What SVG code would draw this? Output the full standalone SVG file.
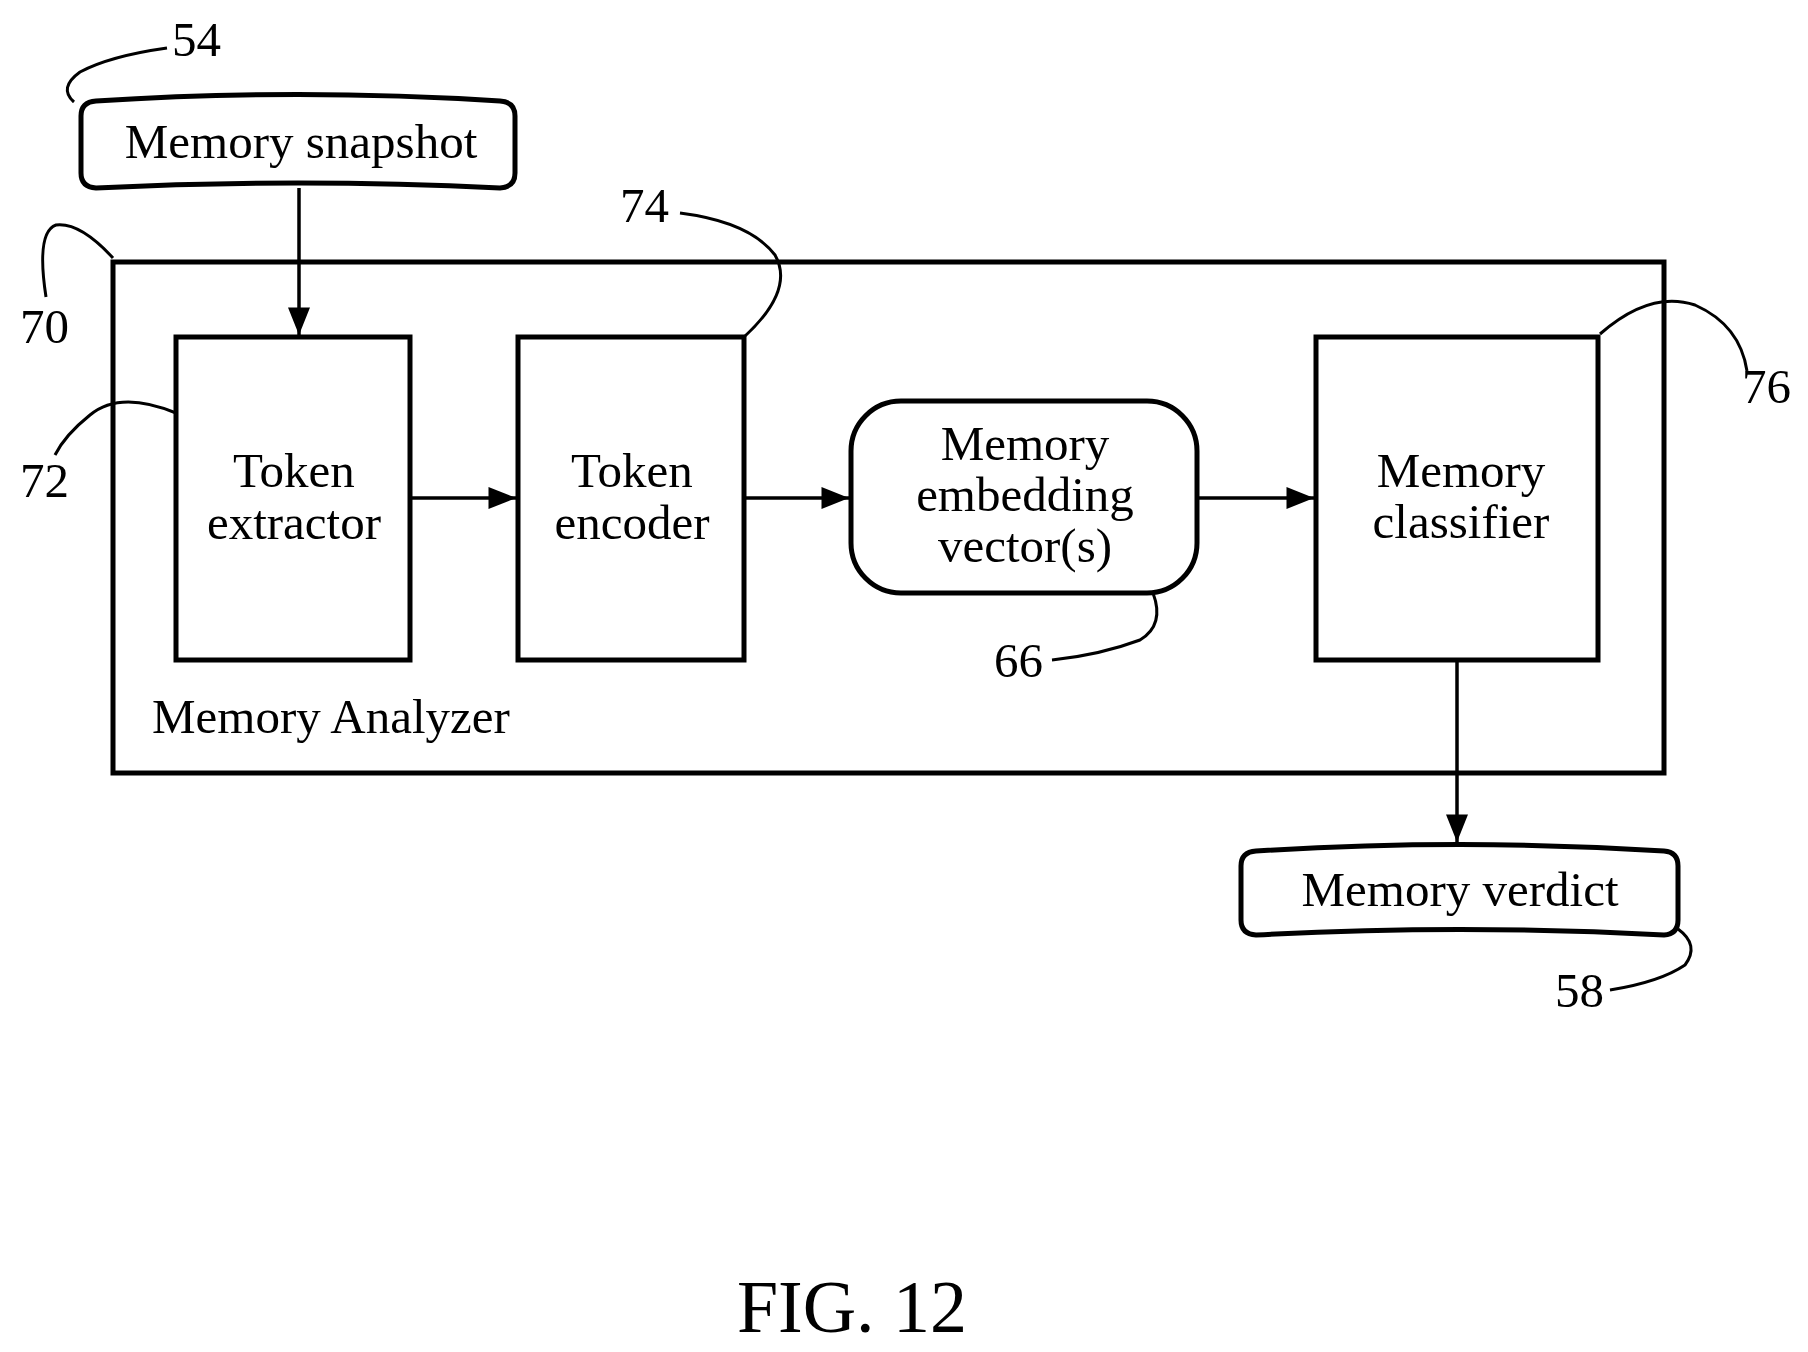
<svg xmlns="http://www.w3.org/2000/svg" width="1808" height="1352" viewBox="0 0 1808 1352">
<style>
.b{fill:#fff;stroke:#000;stroke-width:5}
.l{fill:none;stroke:#000;stroke-width:3}
.c{fill:none;stroke:#000;stroke-width:3.5}
text{font-family:"Liberation Serif",serif;font-size:49px;fill:#000}
.m{text-anchor:middle}
</style>
<defs>
<marker id="h" viewBox="0 0 10 8" refX="10" refY="4" markerWidth="34" markerHeight="22" markerUnits="userSpaceOnUse" orient="auto"><path d="M0,0 L10,4 L0,8 Z"/></marker></defs>
<g id="analyzer"><rect class="b" x="113" y="262" width="1551" height="511"/><text x="152" y="733">Memory Analyzer</text></g>
<g id="snapshot"><path class="b" d="M96,101 Q298,88 500,101 Q515,102 515,116 L515,173 Q515,187 500,188 Q298,178 96,188 Q81,187 81,173 L81,116 Q81,102 96,101 Z"/><text class="m" x="301" y="158">Memory snapshot</text></g>
<g id="extractor"><rect class="b" x="176" y="337" width="234" height="323"/><text class="m" x="294" y="487">Token</text><text class="m" x="294" y="539">extractor</text></g>
<g id="encoder"><rect class="b" x="518" y="337" width="226" height="323"/><text class="m" x="632" y="487">Token</text><text class="m" x="632" y="539">encoder</text></g>
<g id="embedding"><rect class="b" x="851" y="401" width="346" height="192" rx="50"/><text class="m" x="1025" y="460">Memory</text><text class="m" x="1025" y="511">embedding</text><text class="m" x="1025" y="562">vector(s)</text></g>
<g id="classifier"><rect class="b" x="1316" y="337" width="282" height="323"/><text class="m" x="1461" y="487">Memory</text><text class="m" x="1461" y="538">classifier</text></g>
<g id="verdict"><path class="b" d="M1256,851 Q1460,838 1664,851 Q1678,852 1678,866 L1678,920 Q1678,934 1664,935 Q1460,924 1256,935 Q1241,934 1241,920 L1241,866 Q1241,852 1256,851 Z"/><text class="m" x="1460" y="906">Memory verdict</text></g>
<g id="connectors">
<line class="c" x1="299" y1="188" x2="299" y2="335" marker-end="url(#h)"/>
<line class="c" x1="410" y1="498" x2="516" y2="498" marker-end="url(#h)"/>
<line class="c" x1="744" y1="498" x2="849" y2="498" marker-end="url(#h)"/>
<line class="c" x1="1197" y1="498" x2="1314" y2="498" marker-end="url(#h)"/>
<line class="c" x1="1457" y1="660" x2="1457" y2="842" marker-end="url(#h)"/>
</g>
<g id="labels">
<path class="l" d="M74,102 Q58,88 80,72 Q110,56 167,48"/><text x="172" y="56">54</text>
<path class="l" d="M113,258 Q80,222 56,225 Q36,232 46,297"/><text x="20" y="343">70</text>
<path class="l" d="M176,413 Q120,390 90,415 Q65,435 55,455"/><text x="20" y="497">72</text>
<path class="l" d="M744,337 Q795,290 775,255 Q750,222 680,213"/><text x="620" y="222">74</text>
<path class="l" d="M1600,334 Q1650,290 1695,305 Q1740,325 1747,371"/><text x="1742" y="403">76</text>
<path class="l" d="M1153,593 Q1165,625 1140,640 Q1100,655 1052,660"/><text x="994" y="677">66</text>
<path class="l" d="M1678,929 Q1700,945 1685,965 Q1660,982 1610,990"/><text x="1555" y="1007">58</text>
<text class="m" x="852" y="1332" style="font-size:74px">FIG. 12</text>
</g>
</svg>
